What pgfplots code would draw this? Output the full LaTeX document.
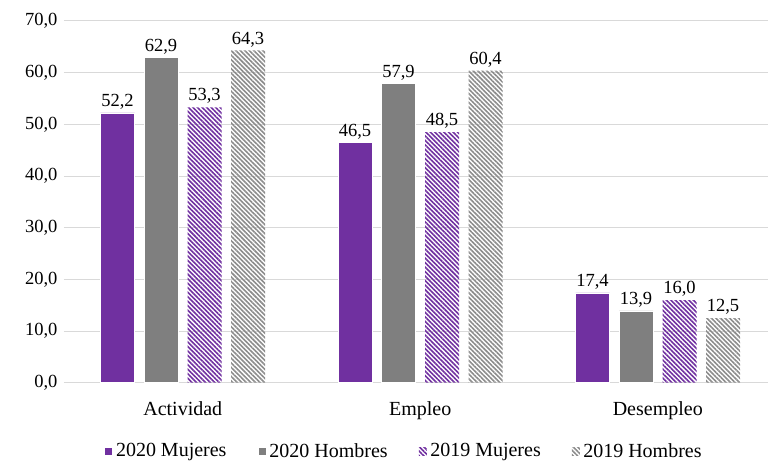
\documentclass[border=0pt]{standalone}
\usepackage{fontspec}
\setmainfont{Liberation Serif}
\usepackage{pgfplots}
\pgfplotsset{compat=1.18}
\usetikzlibrary{patterns.meta}
\definecolor{mpurple}{HTML}{7030A0}
\definecolor{mgray}{HTML}{7F7F7F}
\definecolor{pgray}{HTML}{8C8C8C}
\definecolor{gridc}{HTML}{D9D9D9}
\begin{document}
\begin{tikzpicture}
\path[use as bounding box] (-64pt,-79.3pt) rectangle (704pt,382.7pt);
\begin{axis}[
  scale only axis,
  width=712.5pt, height=361.7pt,
  xmin=-0.5, xmax=2.5, ymin=0, ymax=70,
  ybar=9.5pt, bar width=34pt,
  xtick={0,1,2}, xticklabels={Actividad,Empleo,Desempleo},
  ytick={0,10,...,70},
  ymajorgrids, grid style={draw=gridc, line width=1pt},
  axis x line=bottom, axis y line=left,
  x axis line style={draw=gridc, line width=1pt, -},
  y axis line style={draw=none},
  major tick length=0pt,
  tick label style={text=black},
  yticklabel style={font=\fontsize{18.5}{20}\selectfont, xshift=-3pt, /pgf/number format/.cd, fixed, fixed zerofill, precision=1, use comma},
  /pgf/number format/assume math mode=true,
  xticklabel style={font=\fontsize{20}{22}\selectfont, yshift=-15pt},
  nodes near coords,
  nodes near coords style={font=\fontsize{18.5}{20}\selectfont, text=black, /pgf/number format/.cd, fixed, fixed zerofill, precision=1, use comma},
  legend columns=4,
  legend style={draw=none, fill=none, at={(0.477,-0.189)}, anchor=center,
    font=\fontsize{20}{22}\selectfont,
    /tikz/every even column/.append style={column sep=29pt}},
  legend image code/.code={\path[#1] (0pt,-4pt) rectangle (8pt,4pt); \path (9.5pt,0pt);},
]
\addplot[fill=mpurple, draw=white, line width=0.4pt] coordinates {(0,52.2) (1,46.5) (2,17.4)};
\addplot[fill=mgray, draw=white, line width=0.4pt] coordinates {(0,62.9) (1,57.9) (2,13.9)};
\addplot[draw=none, pattern={Lines[angle=-45, distance=3.2pt, line width=1.6pt]}, pattern color=mpurple] coordinates {(0,53.3) (1,48.5) (2,16.0)};
\addplot[draw=none, pattern={Lines[angle=-45, distance=3.2pt, line width=1.6pt]}, pattern color=pgray] coordinates {(0,64.3) (1,60.4) (2,12.5)};
\legend{2020 Mujeres, 2020 Hombres, 2019 Mujeres, 2019 Hombres}
\end{axis}
\end{tikzpicture}
\end{document}
